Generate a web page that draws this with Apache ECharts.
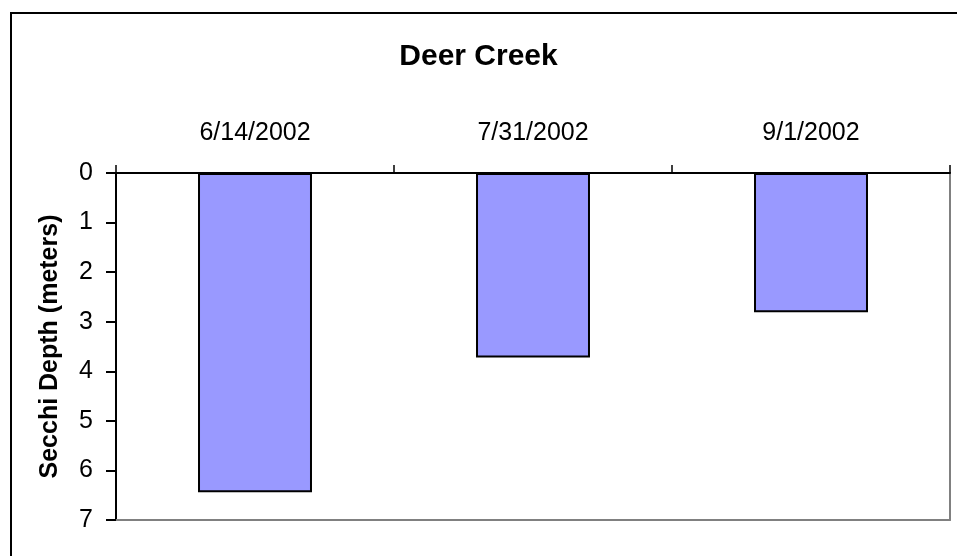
<!DOCTYPE html>
<html>
<head>
<meta charset="utf-8">
<script src="https://cdn.jsdelivr.net/npm/echarts@6/dist/echarts.min.js"></script>
<style>html,body{margin:0;padding:0;background:#fff}#c{width:957px;height:556px}</style>
</head>
<body>
<div id="c"></div>
<script>
const categories = ['6/14/2002', '7/31/2002', '9/1/2002'];
const depths = [6.44, 3.72, 2.81];
const yTicks = { min: 0, max: 7, interval: 1 };

const chart = echarts.init(document.getElementById('c'), null, { renderer: 'canvas' });
const font = '"Liberation Sans", Arial, sans-serif';
chart.setOption({
  animation: false,
  backgroundColor: '#fff',
  title: {
    text: 'Deer Creek', left: 'center', top: 37,
    textStyle: { fontFamily: font, fontSize: 30, fontWeight: 'bold', color: '#000' }
  },
  graphic: [{
    type: 'rect', left: 8.5, top: 10.5, silent: true, z: -1,
    shape: { width: 1000, height: 600 },
    style: { fill: 'none', stroke: '#000', lineWidth: 2 }
  }],
  grid: { left: 116, right: 7, top: 173, bottom: 36, containLabel: false },
  xAxis: [{
    type: 'category', data: categories, position: 'top',
    axisLine: { lineStyle: { color: '#000', width: 2 } },
    axisTick: { show: true, length: 8, lineStyle: { color: '#000', width: 1.5 } },
    axisLabel: { fontFamily: font, fontSize: 25, color: '#000', margin: 27 }
  }, {
    type: 'category', data: categories, position: 'bottom',
    axisLine: { onZero: false, lineStyle: { color: '#808080', width: 2 } },
    axisTick: { show: false }, axisLabel: { show: false }
  }],
  yAxis: [{
    type: 'value', inverse: true, min: yTicks.min, max: yTicks.max, interval: yTicks.interval,
    name: 'Secchi Depth (meters)', nameLocation: 'middle', nameGap: 53, nameRotate: 90,
    nameTextStyle: { fontFamily: font, fontSize: 25, fontWeight: 'bold', color: '#000' },
    axisLine: { show: true, lineStyle: { color: '#000', width: 2 } },
    axisTick: { show: true, length: 10, lineStyle: { color: '#000', width: 2 } },
    axisLabel: { fontFamily: font, fontSize: 25, color: '#000', margin: 23 },
    splitLine: { show: false }
  }, {
    type: 'value', inverse: true, min: yTicks.min, max: yTicks.max, interval: yTicks.interval,
    position: 'right',
    axisLine: { show: true, lineStyle: { color: '#808080', width: 2 } },
    axisTick: { show: false }, axisLabel: { show: false }, splitLine: { show: false }
  }],
  series: [{
    type: 'bar', data: depths, xAxisIndex: 0, yAxisIndex: 0,
    barCategoryGap: '59%',
    itemStyle: { color: '#9999FF', borderColor: '#000', borderWidth: 2 }
  }]
});
</script>
</body>
</html>
